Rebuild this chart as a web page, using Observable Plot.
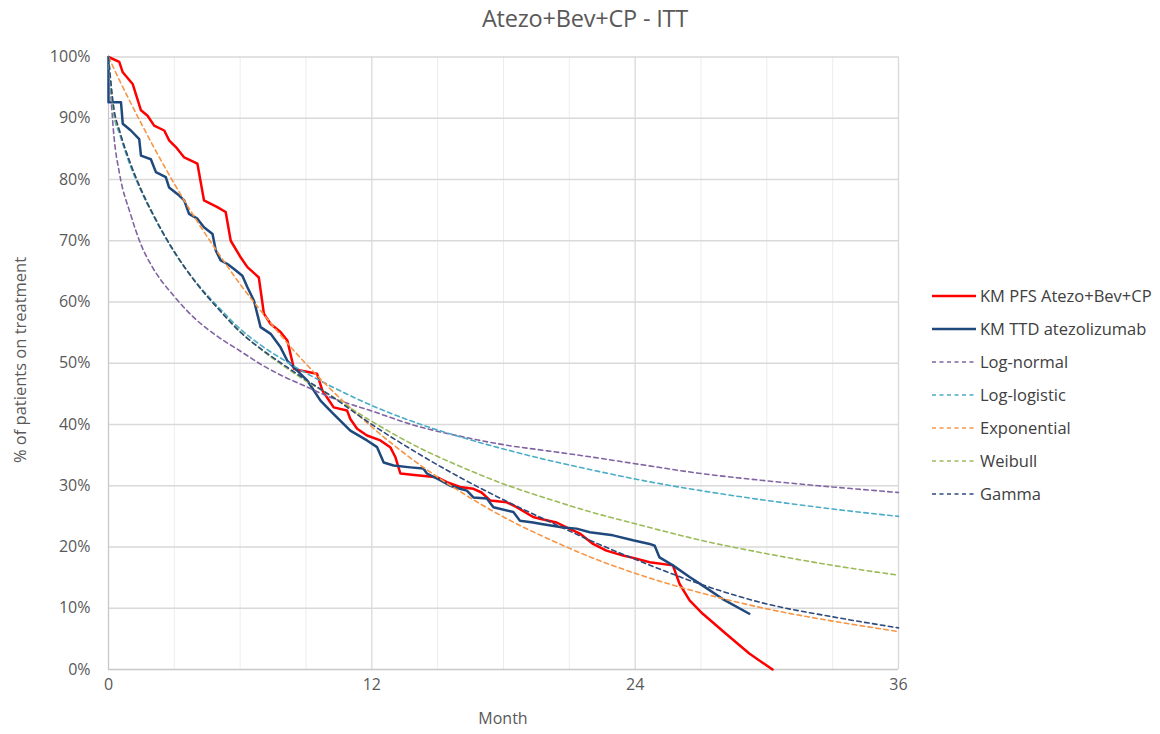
<!DOCTYPE html>
<html>
<head>
<meta charset="utf-8">
<script src="https://cdn.jsdelivr.net/npm/d3@7"></script>
<script src="https://cdn.jsdelivr.net/npm/@observablehq/plot@0.6"></script>
<style>
  body { margin: 0; background: #fff; font-family: "Open Sans", "Noto Sans", sans-serif; }
  #wrap { position: relative; width: 1160px; height: 734px; overflow: hidden; }
  #chart { position: absolute; left: 0; top: 0; }
  #title { position: absolute; left: 435px; width: 300px; top: 2px; text-align: center; white-space: nowrap;
           font-size: 23.5px; color: #595959; display: flex; justify-content: center; letter-spacing: -0.2px; }
  #xlabel { position: absolute; left: 453px; width: 100px; top: 707px; text-align: center; font-size: 16px; color: #595959; }
  #ylabel { position: absolute; left: 19px; top: 360px; transform: translate(-50%, -50%) rotate(-90deg);
            white-space: nowrap; font-size: 16.5px; color: #595959; }
  #legend { position: absolute; left: 930px; top: 279px; font-size: 16.5px; color: #404040; }
  .item { display: flex; align-items: center; height: 33px; white-space: nowrap; }
  .item svg { margin-right: 3px; }
</style>
</head>
<body>
<div id="wrap">
  <div id="chart"></div>
  <div id="title">Atezo+Bev+CP - ITT</div>
  <div id="ylabel">% of patients on treatment</div>
  <div id="xlabel">Month</div>
  <div id="legend"></div>
</div>
<script>
// Kaplan–Meier PFS, Atezo+Bev+CP: [month, % of patients]
const kmPfs = [
  [0, 100], [0.49, 99.2], [0.65, 97.5], [1.1, 95.6], [1.48, 91.3], [1.78, 90.4], [2.08, 88.8],
  [2.54, 88.0], [2.76, 86.4], [3.07, 85.3], [3.45, 83.6], [4.05, 82.6], [4.35, 76.6], [4.96, 75.5],
  [5.34, 74.7], [5.57, 70.0], [6.02, 67.3], [6.33, 65.7], [6.85, 64.0], [7.0, 60.2], [7.08, 58.1],
  [7.39, 56.4], [7.84, 55.1], [8.15, 53.7], [8.45, 49.1], [8.75, 48.8], [9.5, 48.3], [9.74, 45.6],
  [10.26, 42.8], [10.87, 42.3], [11.02, 40.9], [11.33, 39.3], [11.78, 38.2], [12.39, 37.4],
  [12.84, 36.3], [13.07, 34.7], [13.3, 32.0], [14.05, 31.7], [14.96, 31.4], [15.42, 30.6],
  [16.02, 29.8], [16.63, 29.5], [17.0, 28.9], [17.39, 27.6], [18.15, 27.3], [18.6, 26.5],
  [19.35, 24.9], [19.66, 24.6], [20.42, 24.0], [20.87, 23.2], [21.48, 22.2], [22.08, 20.5],
  [22.69, 19.4], [23.45, 18.6], [24.05, 18.1], [24.66, 17.5], [25.72, 17.0], [26.02, 14.0],
  [26.48, 11.3], [27.08, 9.1], [28.15, 5.8], [29.2, 2.6], [30.26, 0]
];

// Kaplan–Meier time to treatment discontinuation, atezolizumab
const kmTtd = [
  [0, 100], [0, 92.6], [0.57, 92.6], [0.65, 89.1], [1.02, 88.0], [1.4, 86.6], [1.48, 83.9],
  [1.93, 83.3], [2.16, 81.2], [2.61, 80.4], [2.76, 78.7], [3.15, 77.6], [3.45, 76.6], [3.67, 74.4],
  [4.05, 73.6], [4.35, 72.2], [4.74, 71.1], [4.89, 68.4], [5.11, 66.8], [5.42, 66.2], [5.72, 65.4],
  [6.1, 64.3], [6.33, 62.4], [6.63, 60.2], [6.93, 55.9], [7.39, 54.8], [7.84, 52.6], [8.15, 50.4],
  [8.6, 48.8], [9.05, 47.2], [9.35, 45.6], [9.66, 43.9], [10.26, 41.7], [11.02, 39.0], [11.78, 37.4],
  [12.24, 36.3], [12.54, 33.8], [12.99, 33.3], [13.75, 33.0], [14.35, 32.8], [14.51, 32.0],
  [15.11, 30.9], [15.57, 30.0], [16.02, 29.5], [16.33, 29.2], [16.63, 28.1], [17.24, 27.9],
  [17.54, 26.5], [18.45, 25.7], [18.75, 24.3], [19.35, 24.0], [19.66, 23.8], [20.72, 23.2],
  [21.33, 23.0], [21.93, 22.4], [22.99, 21.9], [23.9, 21.1], [24.66, 20.5], [24.89, 20.2],
  [25.11, 18.3], [25.72, 17.0], [26.48, 15.1], [27.08, 13.7], [27.99, 11.5], [29.2, 9.1]
];

// Parametric fits, sampled on a common month grid
const fitMonths   = [0, 0.25, 0.5, 1, 1.5, 2, 3, 4, 5, 6, 7, 8, 9, 10, 12, 14, 16, 18, 20, 22, 24, 27, 30, 33, 36];
const logNormal   = [100, 87, 81, 74.4, 69.2, 65.7, 60.9, 57.1, 54.3, 52.0, 49.7, 47.8, 46.2, 44.6, 42.2, 39.8, 38.1, 36.7, 35.7, 34.7, 33.6, 32.0, 30.8, 29.8, 28.9];
const logLogistic = [100, 90.5, 87.5, 82.2, 78.0, 74.4, 68.1, 63.2, 59.2, 55.6, 52.8, 50.5, 48.4, 46.5, 43.1, 40.3, 38.0, 36.0, 34.2, 32.6, 31.1, 29.2, 27.6, 26.2, 25.0];
const exponential = [100, 98.1, 96.2, 92.6, 89.1, 85.7, 79.3, 73.4, 68.0, 62.9, 58.3, 53.9, 49.9, 46.2, 39.6, 33.9, 29.1, 24.9, 21.4, 18.3, 15.7, 12.5, 9.9, 7.9, 6.2];
const weibull     = [100, 90.8, 87.9, 82.6, 78.3, 74.6, 68.2, 63.1, 58.9, 55.2, 52.1, 49.5, 47.1, 45.0, 40.5, 36.5, 33.2, 30.3, 27.9, 25.7, 23.8, 21.1, 18.9, 17.0, 15.4];
const gamma       = [100, 91.5, 88.0, 82.6, 78.2, 74.5, 68.2, 63.1, 58.9, 55.1, 52.2, 49.7, 47.3, 45.0, 40.0, 35.5, 31.4, 27.7, 24.3, 21.0, 18.0, 13.9, 10.7, 8.6, 6.8];

const yTicks = [0, 10, 20, 30, 40, 50, 60, 70, 80, 90, 100];
const xTicks = [0, 12, 24, 36];
const xMinor = [3, 6, 9, 15, 18, 21, 27, 30, 33];

// Series styling, in drawing order
const series = [
  { name: "KM PFS Atezo+Bev+CP",   pts: kmPfs, color: "#ff0000", width: 2.5, dash: null },
  { name: "KM TTD atezolizumab",   pts: kmTtd, color: "#1f497d", width: 2.5, dash: null },
  { name: "Log-normal",   pts: fitMonths.map((m, i) => [m, logNormal[i]]),   color: "#8064a2", width: 1.6, dash: "4.5,3.5", fit: true },
  { name: "Log-logistic", pts: fitMonths.map((m, i) => [m, logLogistic[i]]), color: "#4bacc6", width: 1.6, dash: "4.5,3.5", fit: true },
  { name: "Exponential",  pts: fitMonths.map((m, i) => [m, exponential[i]]), color: "#f79646", width: 1.6, dash: "4.5,3.5", fit: true },
  { name: "Weibull",      pts: fitMonths.map((m, i) => [m, weibull[i]]),     color: "#9bbb59", width: 1.6, dash: "4.5,3.5", fit: true },
  { name: "Gamma",        pts: fitMonths.map((m, i) => [m, gamma[i]]),       color: "#2c4a7c", width: 1.6, dash: "4.5,3.5", fit: true }
];

const lineMarks = series.map(s => Plot.line(s.pts, {
  x: d => d[0], y: d => d[1],
  stroke: s.color, strokeWidth: s.width,
  strokeDasharray: s.dash ?? undefined,
  strokeLinejoin: "round",
  curve: s.fit ? "monotone-x" : "linear"
}));

const chart = Plot.plot({
  width: 1160, height: 734,
  marginLeft: 108, marginRight: 262, marginTop: 56.5, marginBottom: 65,
  style: { fontFamily: "'Open Sans', 'Noto Sans', sans-serif", fontSize: "16px", color: "#595959", background: "transparent" },
  x: { domain: [0, 36] },
  y: { domain: [0, 100] },
  marks: [
    Plot.ruleX(xMinor, { stroke: "#ededed", strokeWidth: 1 }),
    Plot.ruleX([12, 24, 36], { stroke: "#d9d9d9", strokeWidth: 1.3 }),
    Plot.ruleY(yTicks.filter(t => t > 0), { stroke: "#d9d9d9", strokeWidth: 1.3 }),
    Plot.ruleY([0], { stroke: "#c8c8c8", strokeWidth: 1.3 }),
    Plot.ruleX([0], { stroke: "#c8c8c8", strokeWidth: 1.3 }),
    Plot.axisY(yTicks, { tickSize: 0, tickPadding: 18, tickFormat: d => d + "%", label: null, fill: "#595959" }),
    Plot.axisX(xTicks, { tickSize: 0, tickPadding: 9, label: null, fill: "#595959" }),
    ...lineMarks
  ]
});
document.getElementById("chart").appendChild(chart);

// Legend: line sample + series name
const legend = d3.select("#legend");
for (const s of series) {
  const row = legend.append("div").attr("class", "item");
  const svg = row.append("svg").attr("width", 47).attr("height", 10);
  svg.append("line")
    .attr("x1", 2).attr("x2", 46).attr("y1", 5).attr("y2", 5)
    .attr("stroke", s.color)
    .attr("stroke-width", s.fit ? 1.6 : 2.5)
    .attr("stroke-dasharray", s.fit ? "4,3.5" : null);
  row.append("span").text(s.name);
}
</script>
</body>
</html>
